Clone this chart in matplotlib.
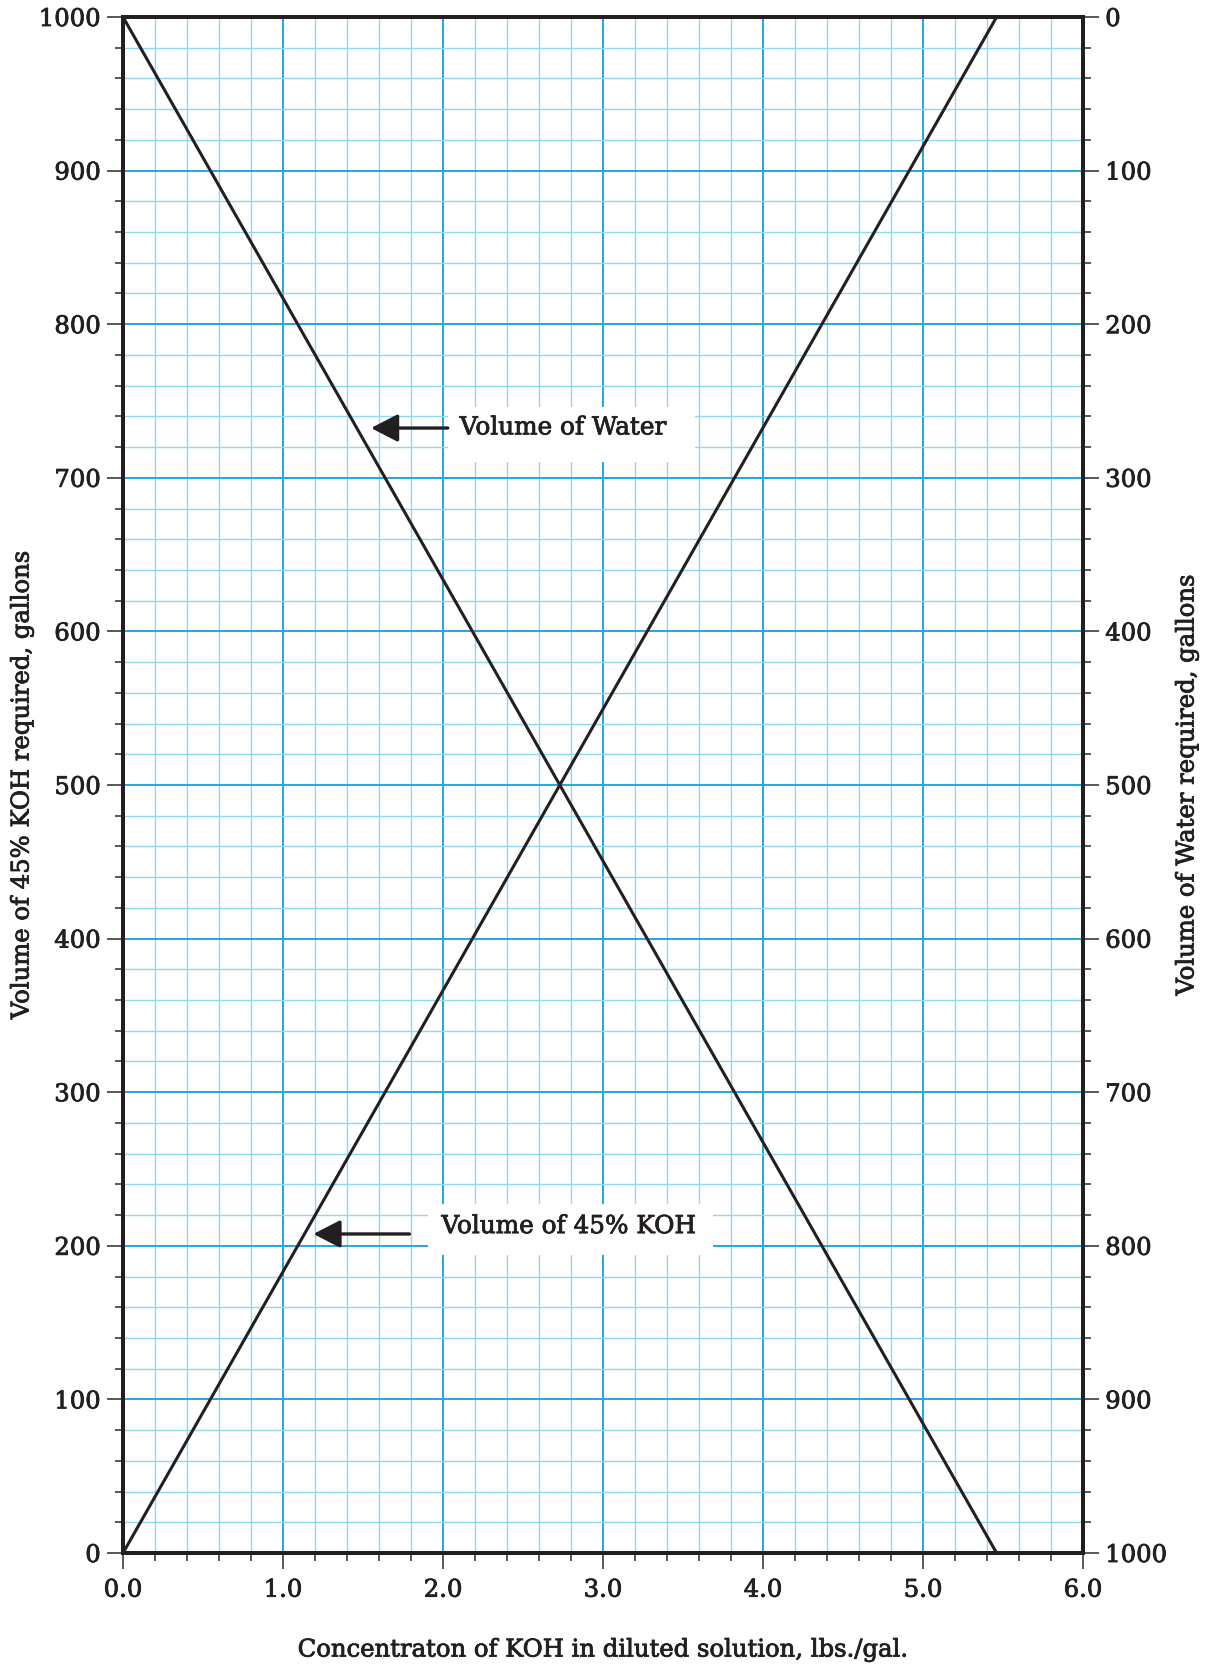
import matplotlib
matplotlib.use("Agg")
import matplotlib.pyplot as plt
from matplotlib.ticker import MultipleLocator
from matplotlib.patches import Rectangle
import matplotlib.patheffects as pe

# Data
conc = [0.0, 5.46]
koh_volume = [0, 1000]
water_line = [1000, 0]
x_ticks = [0.0, 1.0, 2.0, 3.0, 4.0, 5.0, 6.0]
x_tick_labels = ["0.0", "1.0", "2.0", "3.0", "4.0", "5.0", "6.0"]
left_ticks = [0, 100, 200, 300, 400, 500, 600, 700, 800, 900, 1000]
right_ticks = [0, 100, 200, 300, 400, 500, 600, 700, 800, 900, 1000]

plt.rcParams['font.family'] = ['DejaVu Serif']
fig = plt.figure(figsize=(12.17, 16.66), dpi=100)
ax = fig.add_axes([123/1217, 1 - 1553/1666, 960/1217, 1536/1666])

major_c = "#1fa8e0"
minor_c = "#90d7f2"
ink = "#231f20"
tick_c = "#4a4a4a"
heavy = [pe.withStroke(linewidth=0.6, foreground=ink)]

ax.set_xlim(0, 6)
ax.set_ylim(0, 1000)
ax.xaxis.set_major_locator(MultipleLocator(1.0))
ax.xaxis.set_minor_locator(MultipleLocator(0.2))
ax.yaxis.set_major_locator(MultipleLocator(100))
ax.yaxis.set_minor_locator(MultipleLocator(20))
ax.grid(which="minor", color=minor_c, lw=1.0, zorder=0)
ax.grid(which="major", color=major_c, lw=1.4, zorder=0)
ax.set_axisbelow(True)

ax.plot(conc, koh_volume, color=ink, lw=2.2, zorder=3, solid_capstyle="butt")
ax.plot(conc, water_line, color=ink, lw=2.2, zorder=3, solid_capstyle="butt")

ax.set_xticks(x_ticks)
ax.set_xticklabels(x_tick_labels)
ax.set_yticks(left_ticks)
ax.tick_params(which="major", direction="out", length=11.5, width=1.3, color=tick_c,
               labelsize=17.5, labelcolor=ink)
ax.tick_params(which="minor", direction="out", length=6, width=1.3, color=tick_c)
ax.tick_params(axis="x", which="major", pad=7)
ax.tick_params(axis="y", which="major", pad=4.5)
for s in ax.spines.values():
    s.set_linewidth(2.8)
    s.set_color(ink)
    s.set_zorder(5)

ax2 = ax.twinx()
ax2.set_ylim(1000, 0)
ax2.set_yticks(right_ticks)
ax2.yaxis.set_minor_locator(MultipleLocator(20))
ax2.tick_params(which="major", direction="out", length=11.5, width=1.3, color=tick_c,
                labelsize=17.5, pad=4.5, labelcolor=ink)
ax2.tick_params(which="minor", direction="out", length=6, width=1.3, color=tick_c)
for s in ax2.spines.values():
    s.set_linewidth(2.8)
    s.set_color(ink)

for lab in ax.get_xticklabels() + ax.get_yticklabels() + ax2.get_yticklabels():
    lab.set_path_effects(heavy)

ax.set_xlabel("Concentraton of KOH in diluted solution, lbs./gal.", fontsize=17.5,
              color=ink, va="center", path_effects=heavy)
ax.xaxis.set_label_coords(0.5, (1553 - 1650) / 1536)
ax.set_ylabel("Volume of 45% KOH required, gallons", fontsize=17.5, color=ink, va="center",
              path_effects=heavy)
ax.yaxis.set_label_coords((22 - 123) / 960, 0.5)
ax2.set_ylabel("Volume of Water required, gallons", fontsize=17.5, color=ink, va="center",
               rotation=90, path_effects=heavy)
ax2.yaxis.set_label_coords((1187 - 123) / 960, 0.5)

# annotation backgrounds
ax.add_patch(Rectangle((2.03, 710), 1.545, 36, facecolor="white", edgecolor="none", zorder=2))
ax.add_patch(Rectangle((1.906, 194), 1.78, 33, facecolor="white", edgecolor="none", zorder=2))

ax.text(2.105, 732.5, "Volume of Water", fontsize=17.8, color=ink, va="center", ha="left",
        zorder=4, path_effects=heavy)
ax.annotate("", xy=(1.55, 732.4), xytext=(2.03, 732.4),
            arrowprops=dict(arrowstyle="-|>,head_length=1.65,head_width=0.85", color=ink, lw=2.4,
                            shrinkA=0, shrinkB=0, mutation_scale=10), zorder=4)
ax.text(1.99, 212.5, "Volume of 45% KOH", fontsize=17.8, color=ink, va="center", ha="left",
        zorder=4, path_effects=heavy)
ax.annotate("", xy=(1.19, 207.7), xytext=(1.79, 207.7),
            arrowprops=dict(arrowstyle="-|>,head_length=1.65,head_width=0.85", color=ink, lw=2.4,
                            shrinkA=0, shrinkB=0, mutation_scale=10), zorder=4)

fig.savefig("out.png", dpi=100)
